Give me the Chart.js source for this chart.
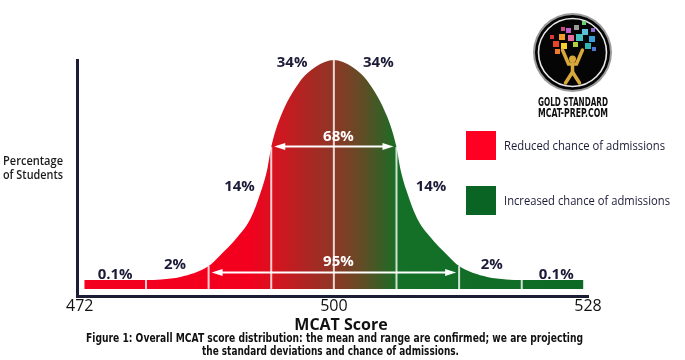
<!DOCTYPE html>
<html><head><meta charset="utf-8">
<script src="https://cdn.jsdelivr.net/npm/chart.js@4/dist/chart.umd.min.js"></script>
<style>html,body{margin:0;padding:0;background:#fff}#wrap{width:685px;height:360px;position:relative}</style>
</head><body><div id="wrap"><canvas id="c" width="685" height="360"></canvas></div>
<script>
// ---- data ----
const scores = [472.5, 479.3, 481, 483.1, 486.2, 487.3, 489.45, 490.85, 492, 492.7, 493.1, 494.1, 496.15, 498, 500,
                502, 503.85, 505.9, 506.9, 507.3, 508, 509.15, 510.55, 512.7, 513.8, 516.9, 519, 520.7, 527.5];
const shares = [3.9, 3.9, 4.2, 5.2, 10, 14, 23, 31, 43, 53, 62, 75, 90, 97, 100,
                97, 90, 75, 62, 53, 43, 31, 23, 14, 10, 5.2, 4.2, 3.9, 3.9];
const sdBounds = [479.3, 486.2, 493.1, 500, 506.9, 513.8, 520.7];
const sdBoundTops = [3.9, 10, 62, 100, 62, 10, 3.9];
const bandLabels = ['0.1%', '2%', '14%', '34%', '34%', '14%', '2%', '0.1%'];
const bandLabelScore = [475.9, 482.5, 489.6, 495.4, 504.9, 510.7, 517.4, 524.5];
const bandLabelShare = [6.4, 10.5, 44.5, 98.7, 98.7, 44.5, 10.5, 6.4];
const rangeLabels = ['68%', '95%'];
const rangeFrom = [493.1, 486.2];
const rangeTo = [506.9, 513.8];
const rangeArrowShare = [62.4, 7.4];
const rangeLabelShare = [66.4, 11.8];
const xTicks = [472, 500, 528];
const legendLabels = ['Reduced chance of admissions', 'Increased chance of admissions'];
const xTitle = 'MCAT Score';
const yTitle = ['Percentage', 'of Students'];
const caption = ['Figure 1: Overall MCAT score distribution: the mean and range are confirmed; we are projecting',
                 'the standard deviations and chance of admissions.'];
const logoText = ['GOLD STANDARD', 'MCAT-PREP.COM'];

// ---- styles ----
const RED = '#ff0022', GREEN = '#0a6423';
const gradStops = [[490.7, '#f2001e'], [493.3, '#d8121f'], [496.3, '#b52222'], [500.2, '#8a3826'],
                   [502.8, '#664a26'], [505, '#3e5c25'], [507.2, '#157027'], [527.5, '#0c6a25']];
const INK = '#1b1b38';

const boundData = [];
sdBounds.forEach((b, i) => { boundData.push({x: b, y: 0}, {x: b, y: sdBoundTops[i]}, {x: b, y: null}); });

function fillGradient(ctx) {
  const chart = ctx.chart, ca = chart.chartArea;
  if (!ca) return RED;
  const xs = chart.scales.x;
  const g = chart.ctx.createLinearGradient(ca.left, 0, ca.right, 0);
  const w = ca.right - ca.left;
  g.addColorStop(0, gradStops[0][1]);
  gradStops.forEach(([s, c]) => {
    const f = Math.min(1, Math.max(0, (xs.getPixelForValue(s) - ca.left) / w));
    g.addColorStop(f, c);
  });
  g.addColorStop(1, gradStops[gradStops.length - 1][1]);
  return g;
}

const annot = {
  id: 'annot',
  afterDatasetsDraw(chart) {
    const {ctx, scales: {x, y}} = chart;
    ctx.save();
    // range arrows
    ctx.strokeStyle = '#fff'; ctx.fillStyle = '#fff'; ctx.lineWidth = 2;
    rangeLabels.forEach((lab, i) => {
      const x1 = x.getPixelForValue(rangeFrom[i]) + 3, x2 = x.getPixelForValue(rangeTo[i]) - 3;
      const yy = Math.round(y.getPixelForValue(rangeArrowShare[i])) + 0.5;
      ctx.beginPath(); ctx.moveTo(x1 + 8, yy); ctx.lineTo(x2 - 8, yy); ctx.stroke();
      ctx.beginPath(); ctx.moveTo(x1, yy); ctx.lineTo(x1 + 11, yy - 3.5); ctx.lineTo(x1 + 11, yy + 3.5); ctx.closePath(); ctx.fill();
      ctx.beginPath(); ctx.moveTo(x2, yy); ctx.lineTo(x2 - 11, yy - 3.5); ctx.lineTo(x2 - 11, yy + 3.5); ctx.closePath(); ctx.fill();
      ctx.font = 'bold 15px "Open Sans", sans-serif';
      ctx.textAlign = 'center'; ctx.textBaseline = 'middle';
      ctx.fillText(lab, x.getPixelForValue(500.5), y.getPixelForValue(rangeLabelShare[i]));
    });
    // band labels
    ctx.fillStyle = INK;
    ctx.font = 'bold 15px "Open Sans", sans-serif';
    ctx.textAlign = 'center'; ctx.textBaseline = 'middle';
    bandLabels.forEach((lab, i) => {
      ctx.fillText(lab, x.getPixelForValue(bandLabelScore[i]), y.getPixelForValue(bandLabelShare[i]));
    });
    ctx.restore();
  },
  afterDraw(chart) {
    const ctx = chart.ctx;
    ctx.save();
    // y title
    ctx.fillStyle = '#1a1a1a'; ctx.textAlign = 'left'; ctx.textBaseline = 'middle';
    ctx.font = '600 12px "Open Sans", sans-serif';
    ctx.fillText(yTitle[0], 3, 162, 60);
    ctx.fillText(yTitle[1], 3, 176, 60);
    // x title
    ctx.fillStyle = '#111'; ctx.textAlign = 'center';
    ctx.font = 'bold 16px "Open Sans", sans-serif';
    ctx.fillText(xTitle, 341, 325);
    // caption
    ctx.font = 'bold 13px "Liberation Sans Narrow", "DejaVu Sans Condensed", sans-serif';
    ctx.fillText(caption[0], 334.5, 339, 497);
    ctx.fillText(caption[1], 330.5, 352, 257);
    // legend
    [RED, GREEN].forEach((c, i) => {
      const top = i === 0 ? 131 : 186;
      ctx.fillStyle = c; ctx.fillRect(466, top, 30, 29);
      ctx.fillStyle = INK; ctx.textAlign = 'left';
      ctx.font = '500 13px "Open Sans", sans-serif';
      ctx.fillText(legendLabels[i], 504, top + 15, i === 0 ? 161 : 166);
    });
    // logo
    const cx = 572.5, cy = 52.5;
    ctx.beginPath(); ctx.arc(cx, cy, 39.5, 0, Math.PI * 2); ctx.fillStyle = '#9a9a9a'; ctx.fill();
    ctx.beginPath(); ctx.arc(cx, cy, 37.5, 0, Math.PI * 2); ctx.fillStyle = '#050505'; ctx.fill();
    ctx.beginPath(); ctx.arc(cx, cy, 34, 0, Math.PI * 2); ctx.strokeStyle = '#e8e8e8'; ctx.lineWidth = 1.6; ctx.stroke();
    const sq = [[553,41,'#e8432b',6],[559,34,'#f39c2b',6],[566,28,'#c061c9',5],[574,25,'#9b9b9b',5],[582,29,'#5bc0de',6],
                [589,36,'#3aa0d8',6],[561,43,'#f6d02b',6],[568,35,'#e86aa0',6],[576,34,'#44c0c0',7],[585,43,'#2fb5b5',6],
                [555,49,'#f07a2b',5],[591,28,'#8a6bd6',4],[561,27,'#d04a8a',4],[582,21,'#6ad07a',4],[573,42,'#b0d040',5],
                [592,47,'#4a7ad8',4],[550,35,'#d83a3a',4]];
    sq.forEach(([sx, sy, c, s]) => { ctx.fillStyle = c; ctx.fillRect(sx, sy, s, s); });
    ctx.strokeStyle = '#d8a83a'; ctx.fillStyle = '#d8a83a'; ctx.lineCap = 'round'; ctx.lineWidth = 3.5;
    ctx.beginPath(); ctx.arc(cx, 59, 3.5, 0, Math.PI * 2); ctx.fill();
    ctx.beginPath(); ctx.moveTo(cx - 10, 50); ctx.lineTo(cx - 4, 64); ctx.lineTo(cx + 4, 64); ctx.lineTo(cx + 10, 50); ctx.stroke();
    ctx.beginPath(); ctx.moveTo(cx, 64); ctx.lineTo(cx, 72); ctx.stroke();
    ctx.beginPath(); ctx.moveTo(cx - 7, 83); ctx.lineTo(cx, 72); ctx.lineTo(cx + 7, 83); ctx.stroke();
    ctx.fillStyle = '#111'; ctx.textAlign = 'center'; ctx.textBaseline = 'middle';
    ctx.font = 'bold 12px "DejaVu Sans Condensed", "Liberation Sans Narrow", sans-serif';
    ctx.fillText(logoText[0], 573, 103, 70);
    ctx.fillText(logoText[1], 573, 114, 70);
    ctx.restore();
  }
};

new Chart(document.getElementById('c'), {
  type: 'line',
  data: {
    datasets: [
      {
        data: scores.map((s, i) => ({x: s, y: shares[i]})),
        fill: 'origin', backgroundColor: fillGradient, borderWidth: 0, borderColor: 'rgba(0,0,0,0)',
        pointRadius: 0, cubicInterpolationMode: 'monotone', order: 2
      },
      {
        data: boundData, borderColor: 'rgba(255,255,255,0.8)', borderWidth: 2, pointRadius: 0,
        fill: false, spanGaps: false, tension: 0, order: 1
      }
    ]
  },
  options: {
    responsive: false, animation: false, events: [],
    layout: {padding: {left: 77, right: 97, top: 60, bottom: 0}},
    plugins: {legend: {display: false}, tooltip: {enabled: false}},
    scales: {
      x: {
        type: 'linear', min: 471.7, max: 528,
        afterBuildTicks: s => { s.ticks = xTicks.map(v => ({value: v})); },
        ticks: {font: {family: '"Open Sans", sans-serif', size: 16}, color: '#111', padding: 1, maxRotation: 0, autoSkip: false},
        grid: {display: true, color: 'rgba(0,0,0,0)', drawTicks: false},
        border: {display: true, color: '#1c1c34', width: 3},
        afterFit: s => { s.height = 64; }
      },
      y: {
        min: -3.06, max: 100,
        ticks: {display: false},
        grid: {display: true, color: 'rgba(0,0,0,0)', drawTicks: false},
        border: {display: true, color: '#1c1c34', width: 3},
        afterFit: s => { s.width = 0; }
      }
    }
  },
  plugins: [annot]
});
</script></body></html>
